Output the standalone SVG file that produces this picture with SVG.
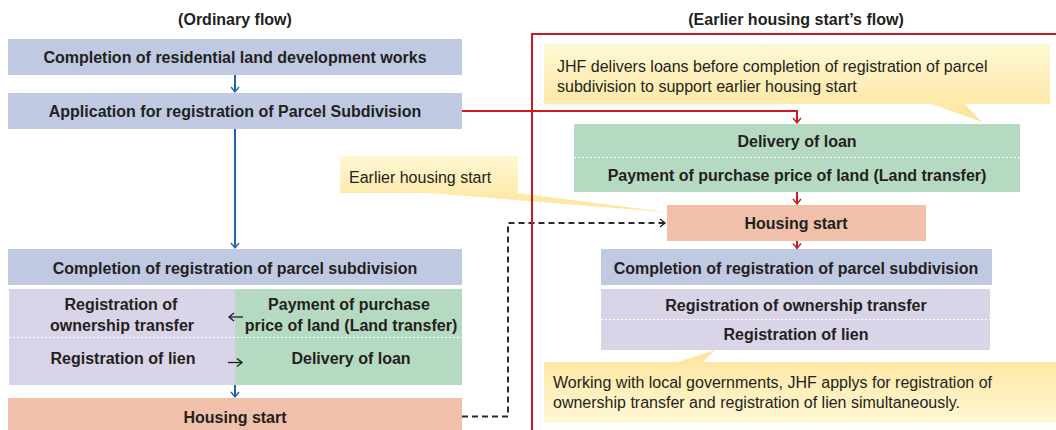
<svg xmlns="http://www.w3.org/2000/svg" width="1056" height="430" viewBox="0 0 1056 430">
  <defs>
    <linearGradient id="gDown" x1="0" y1="0" x2="0" y2="1">
      <stop offset="0" stop-color="#fff8d4"/>
      <stop offset="1" stop-color="#fde49a"/>
    </linearGradient>
    <linearGradient id="gUp" x1="0" y1="0" x2="0" y2="1">
      <stop offset="0" stop-color="#fde49a"/>
      <stop offset="1" stop-color="#fff8d6"/>
    </linearGradient>
    <marker id="mBlue" markerWidth="12" markerHeight="12" refX="9" refY="6" orient="auto" markerUnits="userSpaceOnUse">
      <path d="M4,2 L9,6 L4,10" fill="none" stroke="#1f65a8" stroke-width="1.4"/>
    </marker>
    <marker id="mRed" markerWidth="12" markerHeight="12" refX="9" refY="6" orient="auto" markerUnits="userSpaceOnUse">
      <path d="M4,2 L9,6 L4,10" fill="none" stroke="#cc1a22" stroke-width="1.4"/>
    </marker>
    <marker id="mDark" markerWidth="12" markerHeight="12" refX="9" refY="6" orient="auto" markerUnits="userSpaceOnUse">
      <path d="M4,2 L9,6 L4,10" fill="none" stroke="#231f20" stroke-width="1.4"/>
    </marker>
  </defs>
  <style>
    .t { font-family: "Liberation Sans", Arial, sans-serif; font-size: 16px; fill: #231f20; }
    .b { font-weight: bold; text-anchor: middle; }
    .blue { fill: #bfc9e2; }
    .green { fill: #b6d9c1; }
    .salmon { fill: #f0c0aa; }
    .purple { fill: #d9d4e8; }
    .dots { stroke: #ffffff; stroke-width: 1; stroke-dasharray: 2 2; fill: none; }
    .ab { stroke: #1f65a8; stroke-width: 2; fill: none; }
    .ar { stroke: #cc1a22; stroke-width: 2; fill: none; }
    .ad { stroke: #231f20; stroke-width: 1.3; fill: none; }
  </style>
  <rect width="1056" height="430" fill="#ffffff"/>

  <!-- Titles -->
  <text class="t b" x="235" y="25">(Ordinary flow)</text>
  <text class="t b" x="796" y="25">(Earlier housing start’s flow)</text>

  <!-- Callouts -->
  <g id="callout-earlier">
    <path d="M340,156 H518 V193 L666,212 L427,193 H340 Z" fill="url(#gDown)"/>
    <text class="t" x="349" y="183">Earlier housing start</text>
  </g>
  <g id="callout-jhf-loans">
    <path d="M544,44 H1050 V104 H965 L982,122 L932,104 H544 Z" fill="url(#gDown)"/>
    <text class="t" x="557" y="72">JHF delivers loans before completion of registration of parcel</text>
    <text class="t" x="557" y="92">subdivision to support earlier housing start</text>
  </g>
  <g id="callout-local-gov">
    <path d="M544,362 H678 L715,350 L703,362 H1056 V423 H544 Z" fill="url(#gUp)"/>
    <text class="t" x="553" y="388">Working with local governments, JHF applys for registration of</text>
    <text class="t" x="553" y="408">ownership transfer and registration of lien simultaneously.</text>
  </g>

  <!-- Left column nodes -->
  <g id="l-completion-works">
    <rect class="blue" x="8" y="39" width="454" height="36"/>
    <text class="t b" x="235" y="63">Completion of residential land development works</text>
  </g>
  <g id="l-application">
    <rect class="blue" x="8" y="93" width="454" height="36"/>
    <text class="t b" x="235" y="117">Application for registration of Parcel Subdivision</text>
  </g>
  <g id="l-completion-registration">
    <rect class="blue" x="8" y="249" width="454" height="36"/>
    <text class="t b" x="235" y="274">Completion of registration of parcel subdivision</text>
  </g>
  <g id="l-registrations">
    <rect class="purple" x="9" y="289" width="226" height="96"/>
    <text class="t b" x="121" y="310">Registration of</text>
    <text class="t b" x="122" y="331">ownership transfer</text>
    <text class="t b" x="123" y="364">Registration of lien</text>
  </g>
  <g id="l-payment-loan">
    <rect class="green" x="235" y="289" width="227" height="96"/>
    <text class="t b" x="349" y="310">Payment of purchase</text>
    <text class="t b" x="351" y="331">price of land (Land transfer)</text>
    <text class="t b" x="351" y="364">Delivery of loan</text>
  </g>
  <line class="dots" x1="9" y1="337.5" x2="462" y2="337.5"/>
  <g id="l-housing-start">
    <rect class="salmon" x="8" y="398" width="454" height="36"/>
    <text class="t b" x="235" y="423">Housing start</text>
  </g>

  <!-- Right column nodes -->
  <g id="r-loan-payment">
    <rect class="green" x="574" y="124" width="446" height="68"/>
    <line class="dots" x1="574" y1="157.5" x2="1020" y2="157.5"/>
    <text class="t b" x="797" y="147">Delivery of loan</text>
    <text class="t b" x="797" y="181">Payment of purchase price of land (Land transfer)</text>
  </g>
  <g id="r-housing-start">
    <rect class="salmon" x="667" y="205" width="259" height="36"/>
    <text class="t b" x="796" y="229">Housing start</text>
  </g>
  <g id="r-completion-registration">
    <rect class="blue" x="601" y="249" width="391" height="36"/>
    <text class="t b" x="796" y="274">Completion of registration of parcel subdivision</text>
  </g>
  <g id="r-registrations">
    <rect class="purple" x="601" y="289" width="389" height="61"/>
    <line class="dots" x1="601" y1="319.5" x2="990" y2="319.5"/>
    <text class="t b" x="796" y="311">Registration of ownership transfer</text>
    <text class="t b" x="796" y="340">Registration of lien</text>
  </g>

  <!-- Connectors -->
  <g id="connectors">
    <line class="ab" x1="235" y1="75" x2="235" y2="92" marker-end="url(#mBlue)"/>
    <line class="ab" x1="235" y1="129" x2="235" y2="248" marker-end="url(#mBlue)"/>
    <line class="ab" x1="235" y1="385" x2="235" y2="397" marker-end="url(#mBlue)"/>
    <line class="ad" x1="243" y1="317" x2="229" y2="317" marker-end="url(#mDark)"/>
    <line class="ad" x1="228" y1="362.5" x2="242" y2="362.5" marker-end="url(#mDark)"/>
    <path d="M462,416.5 H508 V223 H665" fill="none" stroke="#2a2a2a" stroke-width="2" stroke-dasharray="6 4" marker-end="url(#mDark)"/>
    <path class="ar" d="M462,111 H797 V123" marker-end="url(#mRed)"/>
    <line class="ar" x1="797" y1="192" x2="797" y2="204" stroke-width="1.4" marker-end="url(#mRed)"/>
    <line class="ar" x1="797" y1="241" x2="797" y2="248.5" stroke-width="1.4" marker-end="url(#mRed)"/>
    <path class="ar" d="M532,430 V34 H1056"/>
  </g>
</svg>
